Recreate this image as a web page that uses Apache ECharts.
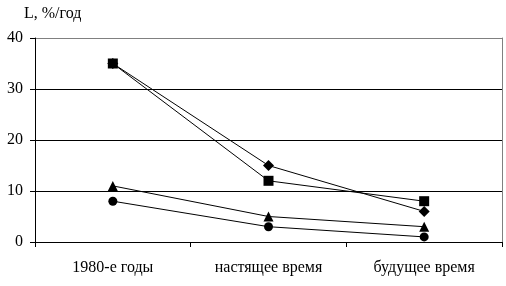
<!DOCTYPE html>
<html><head><meta charset="utf-8">
<script src="https://cdn.jsdelivr.net/npm/echarts@6/dist/echarts.min.js"></script>
<style>html,body{margin:0;padding:0;background:#fff}#c{width:506px;height:286px}</style>
</head><body><div id="c"></div>
<script>
const categories = ['1980-е годы', 'настящее время', 'будущее время'];
const seriesDiamond = [35, 15, 6];
const seriesSquare = [35, 12, 8];
const seriesTriangle = [11, 5, 3];
const seriesCircle = [8, 3, 1];
const yTicks = [0, 10, 20, 30, 40];
const yTitle = 'L, %/год';

const font = 'Liberation Serif';
const chart = echarts.init(document.getElementById('c'), null, {renderer: 'canvas'});
function line(data, symbol, size) {
  return {
    type: 'line', data: data, symbol: symbol, symbolSize: size,
    lineStyle: {color: '#000', width: 1}, itemStyle: {color: '#000'},
    emphasis: {disabled: true}, animation: false
  };
}
chart.setOption({
  animation: false,
  grid: {left: 35, right: 4, top: 38, bottom: 44},
  graphic: [{type: 'text', left: 24, top: 6, style: {text: yTitle, font: '16px "' + font + '"', fill: '#000'}}],
  xAxis: {
    type: 'category', data: categories, boundaryGap: true,
    axisLine: {lineStyle: {color: '#000', width: 1}},
    axisTick: {show: true, length: 5, lineStyle: {color: '#000'}},
    axisLabel: {color: '#000', fontFamily: font, fontSize: 16, margin: 18}
  },
  yAxis: [{
    type: 'value', min: yTicks[0], max: yTicks[yTicks.length - 1], interval: 10,
    axisLine: {show: true, lineStyle: {color: '#000', width: 1}},
    axisTick: {show: true, length: 5, lineStyle: {color: '#000'}},
    axisLabel: {color: '#000', fontFamily: font, fontSize: 16, margin: 12},
    splitLine: {show: true, lineStyle: {color: ['#000', '#000', '#000', '#000', '#808080'], width: 1}}
  }, {
    type: 'value', position: 'right', min: 0, max: 40, interval: 10,
    axisLine: {show: true, lineStyle: {color: '#808080', width: 1}},
    axisTick: {show: false}, axisLabel: {show: false}, splitLine: {show: false}
  }],
  series: [
    line(seriesDiamond, 'diamond', 11),
    line(seriesSquare, 'rect', 10),
    line(seriesTriangle, 'triangle', 10),
    line(seriesCircle, 'circle', 9)
  ]
});
</script></body></html>
